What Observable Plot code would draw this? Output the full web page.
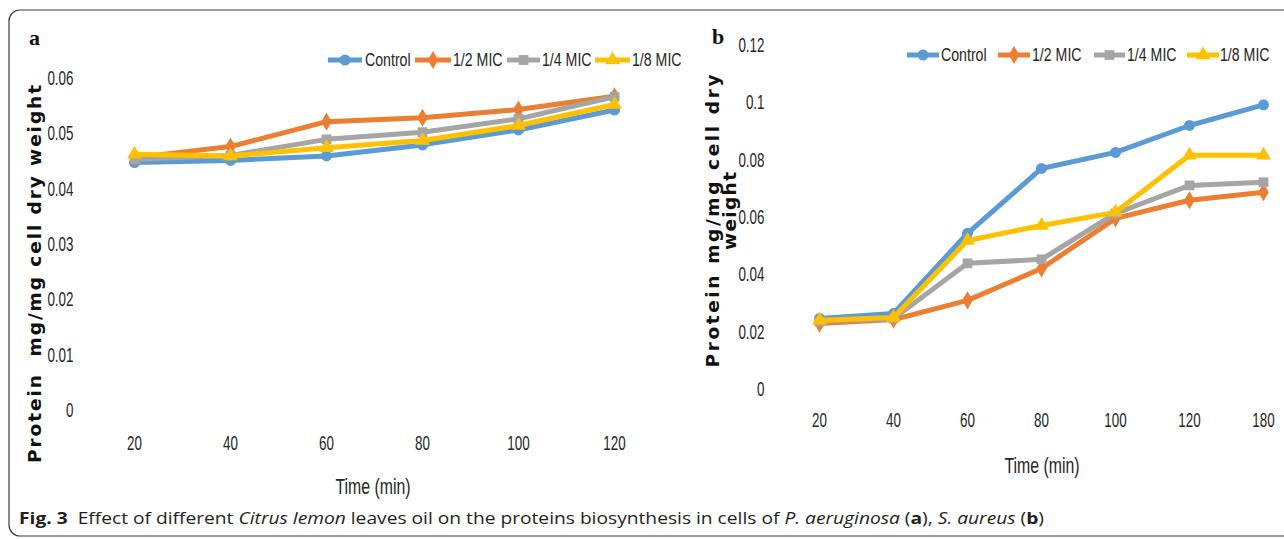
<!DOCTYPE html>
<html>
<head>
<meta charset="utf-8">
<script src="https://cdn.jsdelivr.net/npm/d3@7"></script>
<script src="https://cdn.jsdelivr.net/npm/@observablehq/plot@0.6"></script>
<style>
  html, body { margin: 0; padding: 0; background: #fff; }
  #root { position: relative; width: 1284px; height: 539px; overflow: hidden; }
  .abs { position: absolute; }
  #caption { left: 19px; top: 507px; font-family: "Open Sans", "Noto Sans", sans-serif; font-size: 16px; line-height: 22px; color: #231f20; white-space: nowrap; transform-origin: 0 50%; }
</style>
</head>
<body>
<div id="root">
  <svg class="abs" style="left:0;top:0" width="1284" height="539">
    <rect x="9" y="10" width="1320" height="526" rx="11" ry="11" fill="none" stroke="#3a3a3a" stroke-width="1.2"></rect>
  </svg>
  <div id="panelA" class="abs" style="left:0;top:0"></div>
  <div id="panelB" class="abs" style="left:690px;top:0"></div>
  <div id="caption" class="abs"><b>Fig. 3</b>&nbsp; Effect of different <i>Citrus lemon</i> leaves oil on the proteins biosynthesis in cells of <i>P. aeruginosa</i> (<b>a</b>), <i>S. aureus</i> (<b>b</b>)</div>
</div>
<script>
// ---- Data ----
const seriesNames = ["Control", "1/2 MIC", "1/4 MIC", "1/8 MIC"];
const seriesColors = ["#5B9BD5", "#ED7D31", "#A5A5A5", "#FFC000"];
const seriesSymbols = ["circle", "diamond", "square", "triangle"];

// Panel a: P. aeruginosa
const timesA = ["20", "40", "60", "80", "100", "120"];
const controlA = [0.0448, 0.0452, 0.0460, 0.0480, 0.0507, 0.0543];
const halfA    = [0.0457, 0.0477, 0.0522, 0.0529, 0.0544, 0.0568];
const quarterA = [0.0454, 0.0461, 0.0490, 0.0503, 0.0527, 0.0567];
const eighthA  = [0.0463, 0.0460, 0.0475, 0.0488, 0.0515, 0.0553];
const yTicksA = [0, 0.01, 0.02, 0.03, 0.04, 0.05, 0.06];
const yTickLabelsA = ["0", "0.01", "0.02", "0.03", "0.04", "0.05", "0.06"];

// Panel b: S. aureus
const timesB = ["20", "40", "60", "80", "100", "120", "180"];
const controlB = [0.0248, 0.0265, 0.0545, 0.0771, 0.0827, 0.0921, 0.0993];
const halfB    = [0.0230, 0.0244, 0.0311, 0.0422, 0.0597, 0.0660, 0.0688];
const quarterB = [0.0237, 0.0248, 0.0440, 0.0454, 0.0614, 0.0712, 0.0723];
const eighthB  = [0.0242, 0.0251, 0.0520, 0.0572, 0.0618, 0.0817, 0.0817];
const yTicksB = [0, 0.02, 0.04, 0.06, 0.08, 0.1, 0.12];
const yTickLabelsB = ["0", "0.02", "0.04", "0.06", "0.08", "0.1", "0.12"];

const yTitle = "Protein  mg/mg cell dry weight";
const xTitle = "Time (min)";

const sansFont = '"Liberation Sans", Arial, sans-serif';

// Horizontally condense a text around its anchor point (Calibri-narrow look)
function condense(nodes, factor) {
  nodes.forEach((n) => {
    const xa = n.getAttribute("x");
    let tx = 0;
    if (xa !== null && isFinite(+xa)) { tx = +xa; n.removeAttribute("x"); }
    const t = n.getAttribute("transform") || "";
    n.setAttribute("transform", `${t} translate(${tx},0) scale(${factor},1)`);
  });
}

function rows(times, arrays) {
  const out = [];
  arrays.forEach((arr, i) => arr.forEach((v, j) => out.push({series: seriesNames[i], time: times[j], value: v})));
  return out;
}

function makePanel(opts) {
  const data = rows(opts.times, opts.arrays);
  const marks = [
    Plot.axisY({ticks: opts.yTicks, tickSize: 0, tickPadding: 0, tickFormat: (d) => opts.yLabels[opts.yTicks.indexOf(d)], label: null, fill: "#262626"}),
    Plot.axisX({tickSize: 0, tickPadding: 0, label: null, fill: "#262626"})
  ];
  seriesNames.forEach((name, i) => {
    const d = data.filter((r) => r.series === name);
    marks.push(Plot.line(d, {x: "time", y: "value", stroke: seriesColors[i], strokeWidth: 5}));
    marks.push(Plot.dot(d, {x: "time", y: "value", fill: seriesColors[i], symbol: seriesSymbols[i], r: 5.5, stroke: "none"}));
  });
  return Plot.plot({
    width: opts.width, height: opts.height,
    marginLeft: opts.marginLeft, marginBottom: opts.marginBottom, marginTop: 0, marginRight: 0,
    style: {fontFamily: sansFont, fontSize: "20px", background: "transparent", overflow: "visible"},
    x: {type: "point", domain: opts.times, range: opts.xRange, padding: 0},
    y: {type: "linear", domain: opts.yDomain, range: opts.yRange},
    marks
  });
}

function addDecor(svgNode, cfg) {
  const svg = d3.select(svgNode);
  condense(svg.selectAll('g[aria-label="y-axis tick label"] text, g[aria-label="x-axis tick label"] text').nodes(), 0.67);
  const g = svg.append("g");
  // panel letter
  g.append("text").attr("x", cfg.letter[0]).attr("y", cfg.letter[1]).attr("text-anchor", "start")
    .attr("font-family", '"Liberation Serif", "DejaVu Serif", serif').attr("font-weight", "bold")
    .attr("font-size", 22).attr("fill", "#111").text(cfg.letter[2]);
  // y title lines
  cfg.yTitle.forEach((t) => {
    g.append("text").attr("transform", `translate(${t.x},${t.y}) rotate(-90)`)
      .attr("text-anchor", "middle").attr("dominant-baseline", "central")
      .attr("font-family", '"DejaVu Sans", sans-serif').attr("font-weight", "bold").attr("font-size", 18.5)
      .attr("textLength", t.len).attr("lengthAdjust", "spacing").attr("fill", "#111").text(t.text);
  });
  // x title
  const xt = g.append("text").attr("x", cfg.xTitle[0]).attr("y", cfg.xTitle[1])
    .attr("text-anchor", "middle").attr("dominant-baseline", "central")
    .attr("font-family", sansFont).attr("font-size", 22).attr("fill", "#262626").text(xTitle);
  condense([xt.node()], 0.72);
  // legend
  cfg.legend.forEach((it, i) => {
    const lg = g.append("g");
    lg.append("line").attr("x1", it.x0).attr("x2", it.x1).attr("y1", cfg.legendY).attr("y2", cfg.legendY)
      .attr("stroke", seriesColors[i]).attr("stroke-width", 5);
    const sym = [d3.symbolCircle, d3.symbolDiamond, d3.symbolSquare, d3.symbolTriangle][i];
    lg.append("path").attr("d", d3.symbol(sym, 95)()).attr("transform", `translate(${(it.x0 + it.x1) / 2},${cfg.legendY})`)
      .attr("fill", seriesColors[i]);
    const t = lg.append("text").attr("x", it.tx).attr("y", cfg.legendY).attr("text-anchor", "start")
      .attr("dominant-baseline", "central")
      .attr("font-family", sansFont).attr("font-size", 19).attr("fill", "#262626").text(seriesNames[i]);
    condense([t.node()], 0.745);
  });
}

// Panel a
const plotA = makePanel({
  times: timesA, arrays: [controlA, halfA, quarterA, eighthA],
  yTicks: yTicksA, yLabels: yTickLabelsA, yDomain: [0, 0.06],
  width: 690, height: 500, marginLeft: 73, marginBottom: 65,
  xRange: [134, 614], yRange: [410, 78]
});
document.getElementById("panelA").appendChild(plotA);
addDecor(plotA, {
  letter: [29, 45, "a"],
  yTitle: [{x: 34, y: 274, len: 378, text: yTitle}],
  xTitle: [373, 487],
  legendY: 60,
  legend: [{x0: 328, x1: 362, tx: 365}, {x0: 415, x1: 451, tx: 453}, {x0: 507, x1: 540, tx: 542}, {x0: 595, x1: 630, tx: 632}]
});

// Panel b
const plotB = makePanel({
  times: timesB, arrays: [controlB, halfB, quarterB, eighthB],
  yTicks: yTicksB, yLabels: yTickLabelsB, yDomain: [0, 0.12],
  width: 594, height: 500, marginLeft: 74, marginBottom: 88,
  xRange: [126, 575], yRange: [389, 45]
});
document.getElementById("panelB").appendChild(plotB);
addDecor(plotB, {
  letter: [22, 44, "b"],
  yTitle: [{x: 22, y: 221, len: 293, text: "Protein mg/mg cell dry"}, {x: 39, y: 211, len: 78, text: "weight"}],
  xTitle: [352, 466],
  legendY: 55,
  legend: [{x0: 217, x1: 249, tx: 251}, {x0: 308, x1: 340, tx: 342}, {x0: 404, x1: 435, tx: 437}, {x0: 497, x1: 529, tx: 530}]
});

// caption width fit
const cap = document.getElementById("caption");
const capW = cap.getBoundingClientRect().width;
cap.style.transform = `scaleX(${(1025 / capW).toFixed(4)})`;
</script>
</body>
</html>
